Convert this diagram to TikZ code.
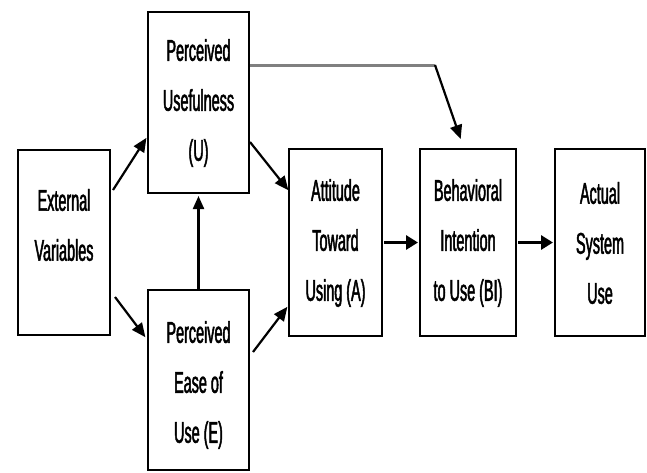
\documentclass[tikz,border=0pt]{standalone}
\usepackage{fontspec}
\newfontfamily\labfont{Liberation Sans}[FakeStretch=0.48,FakeBold=1.6]
\usetikzlibrary{arrows.meta}
\begin{document}
\begin{tikzpicture}[x=1pt,y=-1pt,
  box/.style={draw=black, line width=2pt, fill=white, inner sep=0pt},
  txt/.style={align=center, inner sep=0pt, font=\labfont\fontsize{30}{50}\selectfont},
  arr/.style={line width=2.2pt, -{Triangle[length=14pt,width=12pt]}, shorten >=1pt},
  harr/.style={line width=3.5pt, -{Triangle[length=12pt,width=14pt]}, shorten >=1pt, shorten <=1pt}]
\useasboundingbox (0,0) rectangle (647,472);
% boxes
\node[box, minimum width=92pt, minimum height=185pt] (ext) at (64,242.5) {};
\node[box, minimum width=101pt, minimum height=181pt] (pu) at (198.5,102.5) {};
\node[box, minimum width=101pt, minimum height=180pt] (pe) at (198.5,380) {};
\node[box, minimum width=93pt, minimum height=187pt] (att) at (335.5,242.5) {};
\node[box, minimum width=96pt, minimum height=187pt] (bi) at (468,242.5) {};
\node[box, minimum width=90pt, minimum height=187pt] (act) at (600,242.5) {};
% texts
\node[txt] (extT) at (64,225) {External\\Variables};
\node[txt] (puT) at (198.5,103) {Perceived\\Usefulness\\(U)};
\node[txt] (peT) at (198.5,385) {Perceived\\Ease of\\Use (E)};
\node[txt] (attT) at (335.5,243) {Attitude\\Toward\\Using (A)};
\node[txt] (biT) at (468,243) {Behavioral\\Intention\\to Use (BI)};
\node[txt] (actT) at (600,243) {Actual\\System\\Use};
% connectors
\coordinate (c1) at (113,190);
\coordinate (c2) at (147,137);
\draw[arr] (c1) -- (c2);
\coordinate (c3) at (250,142);
\coordinate (c4) at (289,191);
\draw[arr] (c3) -- (c4);
\coordinate (c5) at (115,297);
\coordinate (c6) at (146,338);
\draw[arr] (c5) -- (c6);
\coordinate (c7) at (253,352);
\coordinate (c8) at (288,306);
\draw[arr] (c7) -- (c8);
\draw[line width=2.2pt, -{Triangle[length=13pt,width=11pt]}, shorten >=2pt] (pe.north) -- (pu.south);
\draw[harr] (att.east) -- (bi.west);
\draw[harr] (bi.east) -- (act.west);
\coordinate (g1) at (pu.east |- 0,65);
\coordinate (g2) at (435,65);
\coordinate (g3) at (461,140);
\draw[gray, line width=3pt] (g1) -- (g2);
\draw[arr] (g2) -- (g3);
\end{tikzpicture}
\end{document}
